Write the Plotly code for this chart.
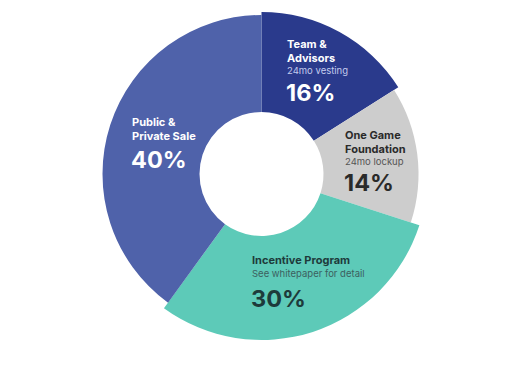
import plotly.graph_objects as go

categories = ["Team & Advisors", "One Game Foundation", "Incentive Program", "Public & Private Sale"]
values = [16, 14, 30, 40]
title_lines = [["Team &", "Advisors"], ["One Game", "Foundation"], ["Incentive Program"], ["Public &", "Private Sale"]]
notes = ["24mo vesting", "24mo lockup", "See whitepaper for detail", ""]
colors = ["#2a3a8c", "#cdcdcd", "#5dcab8", "#4f62aa"]

# Page offset: the browser body has an 8px margin, so the figure is drawn 8px in.
OFF = 8
W, H = 513 - OFF, 375 - OFF

# Geometry (reference pixels)
CX, CY = 261.5, 174.0
HOLE_R = 62.0
slice_radius = [162.0, 157.0, 166.0, 159.0]

FONT = "Inter"
TITLE_SIZE, NOTE_SIZE, PCT_SIZE = 11, 9.5, 23.5
MID = 0.364  # (ascent - descent) / 2 in em, to go from baseline to box middle

def paper(x, y):
    return (x - OFF) / W, 1 - (y - OFF) / H

fig = go.Figure()
for k, R in enumerate(slice_radius):
    cx, cy = CX - OFF, CY - OFF
    slice_colors = [colors[i] if i == k else "rgba(0,0,0,0)" for i in range(len(values))]
    hov = ["label+percent" if i == k else "none" for i in range(len(values))]
    fig.add_trace(go.Pie(
        labels=categories,
        values=values,
        hole=HOLE_R / R,
        sort=False,
        direction="clockwise",
        rotation=0,
        marker=dict(colors=slice_colors, line=dict(width=0)),
        textinfo="none",
        hoverinfo=hov,
        domain=dict(x=[(cx - R) / W, (cx + R) / W], y=[1 - (cy + R) / H, 1 - (cy - R) / H]),
        showlegend=False,
    ))

# Label layout (baselines in reference pixels): x, title baselines, note baseline, pct baseline, colours
label_layout = [
    (285.5, [48.3, 61.7], 73.9, 100.7, "#ffffff", "#c3cbec"),
    (344, [139.4, 152.8], 165.0, 190.9, "#2a2a2a", "#555555"),
    (251, [264.3], 276.6, 306.7, "#1d3b3b", "#3c5f5f"),
    (131, [126.0, 140.0], None, 168.0, "#ffffff", "#dde3f5"),
]

def add_text(anns, x, baseline, text, size, color):
    ax, ay = paper(x, baseline - MID * size)
    anns.append(dict(x=ax, y=ay, xref="paper", yref="paper", text=text,
                     showarrow=False, xanchor="left", yanchor="middle", borderpad=0,
                     font=dict(family=FONT, size=size, color=color)))

anns = []
for k, (x, tb, nb, pb, col, ncol) in enumerate(label_layout):
    for t, b in zip(title_lines[k], tb):
        add_text(anns, x, b, f"<b>{t}</b>", TITLE_SIZE, col)
    if notes[k] and nb is not None:
        add_text(anns, x, nb, notes[k], NOTE_SIZE, ncol)
    add_text(anns, x - 1, pb, f"<b>{values[k]}%</b>", PCT_SIZE, col)

fig.update_layout(
    width=W, height=H,
    margin=dict(l=0, r=0, t=0, b=0),
    paper_bgcolor="#ffffff",
    plot_bgcolor="#ffffff",
    annotations=anns,
)

fig.write_html("out.html")
